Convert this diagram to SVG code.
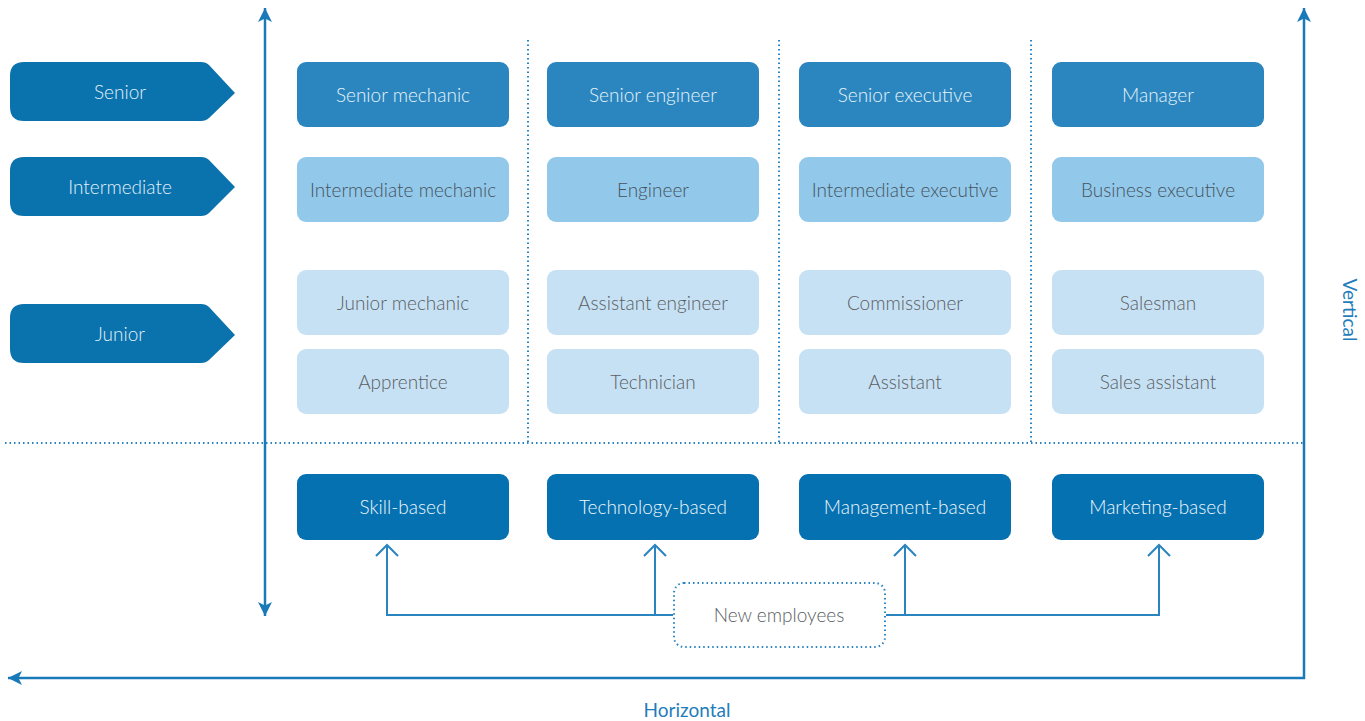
<svg xmlns="http://www.w3.org/2000/svg" width="1365" height="721" viewBox="0 0 1365 721">
<defs>
<style>
text{font-family:Lato,"Open Sans","Noto Sans",sans-serif;font-size:19px;font-weight:300;text-anchor:middle;dominant-baseline:central}
.tag{fill:#0a72ad}
.tagt{fill:#e2f1fa}
.sen{fill:#2b86bf}
.sent{fill:#e6f3fb}
.int{fill:#92c9eb}
.intt{fill:#47525c}
.jun{fill:#c7e1f4}
.junt{fill:#595e63}
.cat{fill:#0671b0}
.catt{fill:#eef7fc}
.axis{stroke:#1a7ab8;stroke-width:2.5;fill:none}
.dot{stroke:#2a84c0;stroke-width:2;stroke-dasharray:1.5 3;fill:none}
.conn{stroke:#2a84c0;stroke-width:2;fill:none}
.axlbl{fill:#1f7dbb;font-size:19px;font-weight:400}
</style>
<marker id="ah2" viewBox="0 0 12 12" refX="12" refY="6" markerWidth="14" markerHeight="14" orient="auto-start-reverse" markerUnits="userSpaceOnUse">
<path d="M0,0 L12,6 L0,12 L3,6 z" fill="#1a7ab8"/>
</marker>
</defs>
<g id="grid">
<line class="dot" x1="5" y1="443" x2="1305" y2="443"/>
<line class="dot" x1="528" y1="40" x2="528" y2="443"/>
<line class="dot" x1="779" y1="40" x2="779" y2="443"/>
<line class="dot" x1="1031" y1="40" x2="1031" y2="443"/>
</g>
<g id="axes">
<line class="axis" x1="265" y1="616" x2="265" y2="8" marker-start="url(#ah2)" marker-end="url(#ah2)"/>
<polyline class="axis" points="1304,8 1304,678 8,678" marker-start="url(#ah2)" marker-end="url(#ah2)"/>
<text class="axlbl" x="687" y="709">Horizontal</text>
<text class="axlbl" transform="translate(1350,310) rotate(90)">Vertical</text>
</g>
<g id="tag-senior"><path class="tag" d="M24,62 H201 Q206,62 209,65 L235,93 L209,118 Q206,121 201,121 H24 Q10,121 10,107 V76 Q10,62 24,62 Z"/><text class="tagt" x="120" y="91">Senior</text></g>
<g id="tag-intermediate"><path class="tag" d="M24,157 H201 Q206,157 209,160 L235,187 L209,213 Q206,216 201,216 H24 Q10,216 10,202 V171 Q10,157 24,157 Z"/><text class="tagt" x="120" y="186">Intermediate</text></g>
<g id="tag-junior"><path class="tag" d="M24,304 H201 Q206,304 209,307 L235,335 L209,360 Q206,363 201,363 H24 Q10,363 10,349 V318 Q10,304 24,304 Z"/><text class="tagt" x="120" y="333">Junior</text></g>

<g id="n-senior-mechanic"><rect class="sen" x="297" y="62" width="212" height="65" rx="9"/><text class="sent" x="403" y="94">Senior mechanic</text></g>
<g id="n-senior-engineer"><rect class="sen" x="547" y="62" width="212" height="65" rx="9"/><text class="sent" x="653" y="94">Senior engineer</text></g>
<g id="n-senior-executive"><rect class="sen" x="799" y="62" width="212" height="65" rx="9"/><text class="sent" x="905" y="94">Senior executive</text></g>
<g id="n-manager"><rect class="sen" x="1052" y="62" width="212" height="65" rx="9"/><text class="sent" x="1158" y="94">Manager</text></g>

<g id="n-intermediate-mechanic"><rect class="int" x="297" y="157" width="212" height="65" rx="9"/><text class="intt" x="403" y="189">Intermediate mechanic</text></g>
<g id="n-engineer"><rect class="int" x="547" y="157" width="212" height="65" rx="9"/><text class="intt" x="653" y="189">Engineer</text></g>
<g id="n-intermediate-executive"><rect class="int" x="799" y="157" width="212" height="65" rx="9"/><text class="intt" x="905" y="189">Intermediate executive</text></g>
<g id="n-business-executive"><rect class="int" x="1052" y="157" width="212" height="65" rx="9"/><text class="intt" x="1158" y="189">Business executive</text></g>

<g id="n-junior-mechanic"><rect class="jun" x="297" y="270" width="212" height="65" rx="9"/><text class="junt" x="403" y="302">Junior mechanic</text></g>
<g id="n-assistant-engineer"><rect class="jun" x="547" y="270" width="212" height="65" rx="9"/><text class="junt" x="653" y="302">Assistant engineer</text></g>
<g id="n-commissioner"><rect class="jun" x="799" y="270" width="212" height="65" rx="9"/><text class="junt" x="905" y="302">Commissioner</text></g>
<g id="n-salesman"><rect class="jun" x="1052" y="270" width="212" height="65" rx="9"/><text class="junt" x="1158" y="302">Salesman</text></g>

<g id="n-apprentice"><rect class="jun" x="297" y="349" width="212" height="65" rx="9"/><text class="junt" x="403" y="381">Apprentice</text></g>
<g id="n-technician"><rect class="jun" x="547" y="349" width="212" height="65" rx="9"/><text class="junt" x="653" y="381">Technician</text></g>
<g id="n-assistant"><rect class="jun" x="799" y="349" width="212" height="65" rx="9"/><text class="junt" x="905" y="381">Assistant</text></g>
<g id="n-sales-assistant"><rect class="jun" x="1052" y="349" width="212" height="65" rx="9"/><text class="junt" x="1158" y="381">Sales assistant</text></g>

<g id="n-skill"><rect class="cat" x="297" y="474" width="212" height="66" rx="9"/><text class="catt" x="403" y="506">Skill-based</text></g>
<g id="n-technology"><rect class="cat" x="547" y="474" width="212" height="66" rx="9"/><text class="catt" x="653" y="506">Technology-based</text></g>
<g id="n-management"><rect class="cat" x="799" y="474" width="212" height="66" rx="9"/><text class="catt" x="905" y="506">Management-based</text></g>
<g id="n-marketing"><rect class="cat" x="1052" y="474" width="212" height="66" rx="9"/><text class="catt" x="1158" y="506">Marketing-based</text></g>

<g id="n-new-employees"><rect x="674" y="583" width="211" height="64" rx="10" fill="#fff" stroke="#2a84c0" stroke-width="2" stroke-dasharray="1.5 3"/><text x="779" y="614" fill="#595e63">New employees</text></g>

<g id="connectors" class="conn">
<polyline points="673,615 387,615 387,546"/>
<polyline points="655,615 655,546"/>
<polyline points="886,615 1159,615 1159,546"/>
<polyline points="905,615 905,546"/>
<polyline points="376,556 387,545 398,556"/>
<polyline points="644,556 655,545 666,556"/>
<polyline points="894,556 905,545 916,556"/>
<polyline points="1148,556 1159,545 1170,556"/>
</g>
</svg>
